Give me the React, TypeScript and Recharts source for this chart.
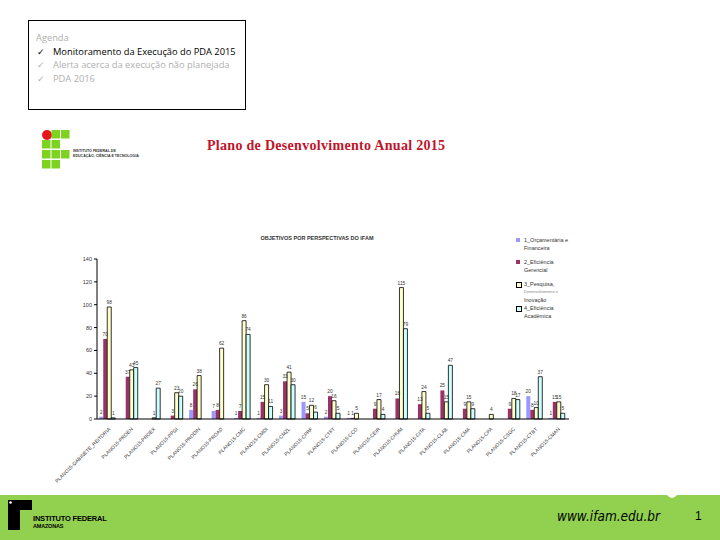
import { BarChart, Bar, XAxis, YAxis, LabelList } from 'recharts'

// Unidades avaliadas no PDA 2015
const categories = [
  'PLANO15-GABINETE_REITORIA', 'PLANO15-PROEN', 'PLANO15-PROEX', 'PLANO15-PPGI',
  'PLANO15-PRODIN', 'PLANO15-PROAD', 'PLANO15-CMC', 'PLANO15-CMDI',
  'PLANO15-CMZL', 'PLANO15-CPRF', 'PLANO15-CTFT', 'PLANO15-CCO',
  'PLANO15-CEIR', 'PLANO15-CHUM', 'PLANO15-CITA', 'PLANO15-CLAB',
  'PLANO15-CMA', 'PLANO15-CPA', 'PLANO15-CSGC', 'PLANO15-CTBT', 'PLANO15-CMAN',
]

// Quantidade de objetivos por perspectiva (null = sem objetivos)
const orcamentaria = [2, null, null, null, 8, 7, 1, 1, 3, 15, 2, 1, null, null, null, null, null, null, null, 20, 1]
const eficienciaGerencial = [70, 37, null, 3, 26, 8, 7, 15, 33, 5, 20, 1, 9, 18, 13, 25, 9, null, 9, 8, 15]
const pesquisaInovacao = [98, 43, 1, 23, 38, 62, 86, 30, 41, 12, 16, 5, 17, 115, 24, 15, 15, 4, 18, 10, 15]
const eficienciaAcademica = [1, 45, 27, 20, null, null, 74, 11, 30, 6, 5, null, 4, 79, 5, 47, 9, null, 17, 37, 5]

const yTicks = [0, 20, 40, 60, 80, 100, 120, 140]

const series = [
  { key: 'p1', name: ['1_Orçamentária e', 'Financeira'], values: orcamentaria, color: '#9999ff', stroke: 'none' },
  { key: 'p2', name: ['2_Eficiência', 'Gerencial'], values: eficienciaGerencial, color: '#993366', stroke: 'none' },
  { key: 'p3', name: ['3_Pesquisa,', 'Desenvolvimento e', 'Inovação'], values: pesquisaInovacao, color: '#ffffcc', stroke: '#000' },
  { key: 'p4', name: ['4_Eficiência', 'Acadêmica'], values: eficienciaAcademica, color: '#ccffff', stroke: '#000' },
]

const data = categories.map((name, i) => {
  const row: Record<string, any> = { name }
  series.forEach(s => { row[s.key] = s.values[i] })
  return row
})

const chartFont = '"Liberation Sans", Arial, sans-serif'

function IfLogo() {
  // grade de quadrados verdes com o círculo vermelho
  const cells = [
    [0, 1], [0, 2],
    [1, 0], [1, 1],
    [2, 0], [2, 1], [2, 2],
    [3, 0], [3, 1],
  ]
  return (
    <svg width={30} height={42} style={{ position: 'absolute', left: 42, top: 130 }}>
      <circle cx={5} cy={5} r={5} fill="#e8151b" />
      {cells.map(([r, c]) => (
        <rect key={`${r}-${c}`} x={c * 9.5} y={r * 10} width={8.5} height={8.5} fill="#7ed321" />
      ))}
    </svg>
  )
}

export default function App() {
  return (
    <div style={{ position: 'fixed', left: 0, top: 0, width: 720, height: 540, background: '#fff', overflow: 'hidden', fontFamily: chartFont }}>
      {/* Agenda */}
      <div style={{ position: 'absolute', left: 28, top: 20, width: 218, height: 90, border: '1px solid #000', fontFamily: '"Open Sans", sans-serif', fontSize: 9.3, lineHeight: '13.5px', paddingTop: 10, paddingLeft: 7, boxSizing: 'border-box', whiteSpace: 'nowrap' }}>
        <div style={{ color: '#b0b0b0' }}>Agenda</div>
        {[
          { text: 'Monitoramento da Execução do PDA 2015', color: '#000' },
          { text: 'Alerta acerca da execução não planejada', color: '#b0b0b0' },
          { text: 'PDA 2016', color: '#b0b0b0' },
        ].map(item => (
          <div key={item.text} style={{ color: item.color, position: 'relative', paddingLeft: 17 }}>
            <span style={{ position: 'absolute', left: 1 }}>✓</span>{item.text}
          </div>
        ))}
      </div>

      <IfLogo />
      <div style={{ position: 'absolute', left: 73, top: 149, fontSize: 3.6, lineHeight: '5px', fontWeight: 700, color: '#333' }}>
        <div>INSTITUTO FEDERAL DE</div>
        <div>EDUCAÇÃO, CIÊNCIA E TECNOLOGIA</div>
      </div>

      <div style={{ position: 'absolute', left: 207, top: 138, fontFamily: '"Liberation Serif", serif', fontWeight: 700, fontSize: 14, letterSpacing: 0.3, color: '#c0142a' }}>
        Plano de Desenvolvimento Anual 2015
      </div>

      <BarChart
        width={720}
        height={540}
        data={data}
        margin={{ top: 259, right: 151, left: 81, bottom: 71 }}
        barCategoryGap="10%"
        barGap={0}
        style={{ position: 'absolute', left: 0, top: 0 }}
      >
        <text x={317} y={240} textAnchor="middle" fontSize={5.5} fontWeight={700} fill="#333" fontFamily={chartFont}>
          OBJETIVOS POR PERSPECTIVAS DO IFAM
        </text>
        <XAxis
          dataKey="name"
          interval={0}
          height={50}
          angle={-45}
          textAnchor="end"
          tick={{ fontSize: 5, fill: '#333', fontFamily: chartFont }}
          axisLine={{ stroke: '#000' }}
          tickLine={false}
        />
        <YAxis
          domain={[0, 140]}
          ticks={yTicks}
          width={16}
          tickSize={3}
          tick={{ fontSize: 5.5, fill: '#333', fontFamily: chartFont }}
          axisLine={{ stroke: '#000' }}
          tickLine={{ stroke: '#000' }}
        />
        {series.map(s => (
          <Bar key={s.key} dataKey={s.key} fill={s.color} stroke={s.stroke} strokeWidth={0.8} isAnimationActive={false}>
            <LabelList dataKey={s.key} position="top" offset={3} style={{ fontSize: 4.8, fill: '#333', fontFamily: chartFont }} />
          </Bar>
        ))}
      </BarChart>

      {/* Legenda */}
      <div style={{ position: 'absolute', left: 515, top: 236, fontSize: 5.5, lineHeight: '8px', color: '#333' }}>
        {series.map(s => (
          <div key={s.key} style={{ position: 'relative', paddingLeft: 9, marginBottom: s.name.length > 2 ? 0 : 6 }}>
            <span style={{ position: 'absolute', left: 1, top: 2, width: 4, height: 4, background: s.color, border: s.stroke === 'none' ? 'none' : '0.5px solid #000' }} />
            {s.name.map((line, i) => (
              <div key={i} style={i === 1 && s.name.length > 2 ? { fontSize: 4, color: '#888' } : undefined}>{line}</div>
            ))}
          </div>
        ))}
      </div>

      {/* Rodapé */}
      <div style={{ position: 'absolute', left: 0, top: 495, width: 720, height: 45, background: '#92d050' }} />
      <svg width={720} height={45} style={{ position: 'absolute', left: 0, top: 495 }}>
        <path d="M667 0 Q672 6 677 0 Z" fill="#fff" />
        <path d="M8 5 H32 V15 H20 V35 H8 Z" fill="#000" />
        <circle cx={10.5} cy={7.5} r={1.3} fill="#fff" />
      </svg>
      <div style={{ position: 'absolute', left: 33, top: 515, fontSize: 7.5, lineHeight: '7.5px', fontWeight: 700, color: '#000', letterSpacing: -0.2 }}>
        <div>INSTITUTO FEDERAL</div>
        <div style={{ fontSize: 5.5 }}>AMAZONAS</div>
      </div>
      <div style={{ position: 'absolute', left: 557, top: 508, fontStyle: 'italic', fontSize: 13.5, color: '#000', fontFamily: '"DejaVu Sans Condensed", sans-serif' }}>
        www.ifam.edu.br
      </div>
      <div style={{ position: 'absolute', left: 695, top: 509, fontSize: 12, color: '#000' }}>1</div>
    </div>
  )
}
